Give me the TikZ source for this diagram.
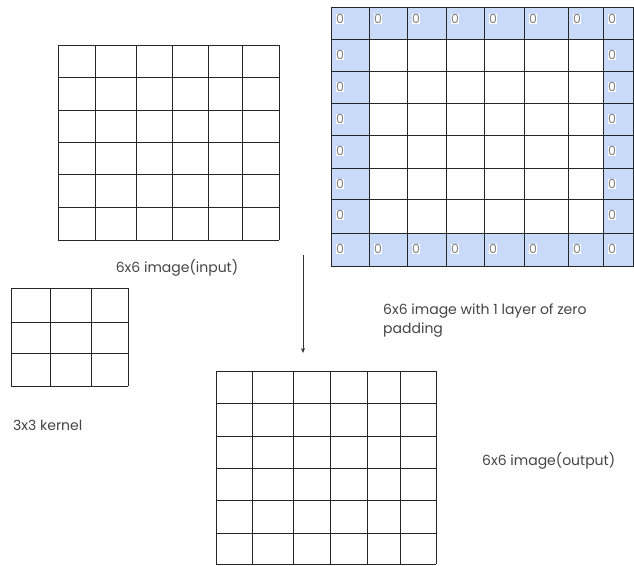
\documentclass[tikz,border=0pt]{standalone}
\usepackage{fontspec}
\setmainfont{Poppins}
\usetikzlibrary{arrows.meta,positioning}
\definecolor{padblue}{HTML}{C9DAF8}
\definecolor{labelgray}{HTML}{444444}

\begin{document}
\begin{tikzpicture}[x=1pt, y=-1pt,
    gridline/.style={line width=0.95pt, black!85},
    gridlabel/.style={font=\fontsize{14}{19}\selectfont, text=labelgray, inner sep=0pt},
    zero/.style={font=\fontsize{12.5}{12.5}\selectfont, text=gray, fill=white, inner sep=0.3pt},
    flowarrow/.style={-{Stealth[length=5pt,width=4pt]}, line width=0.6pt, black!80}
]
    \useasboundingbox (0,0) rectangle (634,565);

    % Input image 6x6
    \foreach \x in {58,95,136,172,208,242,279} \draw[gridline] (\x,45) -- (\x,240);
    \foreach \y in {45,77,110,142,174,207,240} \draw[gridline] (58,\y) -- (279,\y);
    \node[gridlabel] (inputlabel) at (177,268) {6x6 image(input)};

    % Kernel 3x3
    \foreach \x in {11,50,91,128} \draw[gridline] (\x,288) -- (\x,386);
    \foreach \y in {288,322,353,386} \draw[gridline] (11,\y) -- (128,\y);
    \node[gridlabel, anchor=west] (kernellabel) at (13,425) {3x3 kernel};

    % Padded image with border of zeros
    \fill[padblue] (331,7) rectangle (634,266);
    \fill[white] (369,39) rectangle (603,233);
    \foreach \x in {331,369,407,446,484,524,568,603,633.5} \draw[gridline] (\x,7) -- (\x,266);
    \foreach \y in {7,39,71,103,135,168,199,233,266} \draw[gridline] (331,\y) -- (634,\y);
    \foreach \xl [count=\i] in {331,369,407,446,484,524,568,603} {
        \node[zero] (ztop\i) at (\xl+9,19) {0};
        \node[zero] (zbot\i) at (\xl+9,249) {0};
    }
    \foreach \yt [count=\j] in {39,71,103,135,168,199} {
        \node[zero] (zleft\j) at (340,\yt+16) {0};
        \node[zero] (zright\j) at (612,\yt+16) {0};
    }
    \node[gridlabel, align=left, anchor=north west] (padlabel) at (383,304) {6x6 image with 1 layer of zero\\padding};

    % Output image 6x6
    \foreach \x in {216,252,293,330,367,400,436} \draw[gridline] (\x,371) -- (\x,564);
    \foreach \y in {371,403,436,468,500,533,564} \draw[gridline] (216,\y) -- (436,\y);
    \node[gridlabel, anchor=west] (outputlabel) at (482,461) {6x6 image(output)};

    % Arrow
    \coordinate (arrowstart) at (303,255);
    \coordinate (arrowend) at (303,353);
    \draw[flowarrow] (arrowstart) -- (arrowend);
\end{tikzpicture}
\end{document}
